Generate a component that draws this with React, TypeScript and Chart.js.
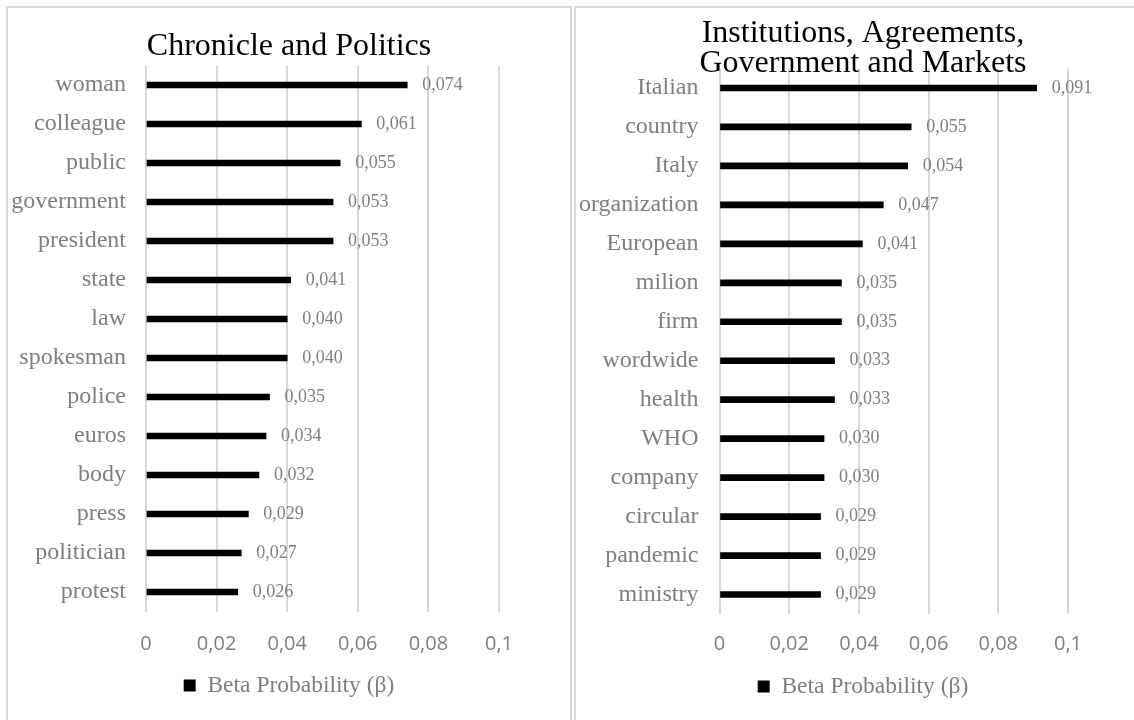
import React, { useEffect, useRef } from "react";
import { Chart, registerables } from "chart.js";

Chart.register(...registerables);

// ---------- data ----------
const seriesLabel = "Beta Probability (β)";

const leftTitle = "Chronicle and Politics";
const leftCategories = [
  "woman", "colleague", "public", "government", "president", "state", "law",
  "spokesman", "police", "euros", "body", "press", "politician", "protest",
];
const leftValues = [
  0.074, 0.061, 0.055, 0.053, 0.053, 0.041, 0.040,
  0.040, 0.035, 0.034, 0.032, 0.029, 0.027, 0.026,
];

const rightTitle = ["Institutions, Agreements,", "Government and Markets"];
const rightCategories = [
  "Italian", "country", "Italy", "organization", "European", "milion", "firm",
  "wordwide", "health", "WHO", "company", "circular", "pandemic", "ministry",
];
const rightValues = [
  0.091, 0.055, 0.054, 0.047, 0.041, 0.035, 0.035,
  0.033, 0.033, 0.030, 0.030, 0.029, 0.029, 0.029,
];

const xMin = 0;
const xMax = 0.1;
const xStep = 0.02;

// ---------- styles ----------
const SERIF = "'Liberation Serif', 'Times New Roman', serif";
const SANS = "'Open Sans', Calibri, sans-serif";
const GRAY = "#7f7f7f";
const GRID = "#d9d9d9";

const comma = (v: number, digits: number) => v.toFixed(digits).replace(".", ",");

const tickText = (v: number) => {
  const r = Math.round(v * 100) / 100;
  return String(r).replace(".", ",");
};

const valueLabelPlugin = {
  id: "valueLabels",
  afterDatasetsDraw(chart: any) {
    const ctx = chart.ctx;
    ctx.save();
    ctx.font = `18px ${SERIF}`;
    ctx.fillStyle = GRAY;
    ctx.textAlign = "left";
    ctx.textBaseline = "middle";
    chart.data.datasets.forEach((ds: any, i: number) => {
      const meta = chart.getDatasetMeta(i);
      meta.data.forEach((el: any, j: number) => {
        const v = ds.data[j] as number;
        ctx.fillText(comma(v, 3), el.x + 15, el.y);
      });
    });
    ctx.restore();
  },
};

type Spec = {
  title: string | string[];
  categories: string[];
  values: number[];
  width: number;
  height: number;
  yAxisWidth: number;
  yTickPad: number;
  xAxisHeight: number;
  xTickPad: number;
  rightSpace: number;
  padBottom: number;
  titleLineHeight: number;
  titlePadTop: number;
  titlePadBottom: number;
};

function makeConfig(s: Spec): any {
  return {
    type: "bar",
    data: {
      labels: s.categories,
      datasets: [
        {
          label: seriesLabel,
          data: s.values,
          xAxisID: "x",
          yAxisID: "y",
          backgroundColor: "#000000",
          borderWidth: 0,
          barThickness: 6,
        },
      ],
    },
    options: {
      indexAxis: "y",
      responsive: false,
      animation: false,
      devicePixelRatio: 1,
      layout: { padding: { left: 0, right: 0, top: 0, bottom: s.padBottom } },
      scales: {
        x: {
          type: "linear",
          position: "bottom",
          min: xMin,
          max: xMax,
          ticks: {
            stepSize: xStep,
            padding: s.xTickPad,
            color: GRAY,
            font: { family: SANS, size: 20 },
            callback: (v: any) => tickText(Number(v)),
          },
          grid: { display: true, color: GRID, lineWidth: 2, drawTicks: false },
          border: { display: false },
          afterFit: (scale: any) => {
            scale.height = s.xAxisHeight;
          },
        },
        y: {
          type: "category",
          position: "left",
          ticks: {
            padding: s.yTickPad,
            color: GRAY,
            font: { family: SERIF, size: 24 },
            autoSkip: false,
          },
          grid: { display: false, drawTicks: false },
          border: { display: false },
          afterFit: (scale: any) => {
            scale.width = s.yAxisWidth;
          },
        },
        ySpace: {
          type: "linear",
          position: "right",
          display: true,
          ticks: { display: false },
          grid: { display: false, drawTicks: false },
          border: { display: false },
          afterFit: (scale: any) => {
            scale.width = s.rightSpace;
          },
        },
      },
      plugins: {
        title: {
          display: true,
          text: s.title,
          color: "#000000",
          font: { family: SERIF, size: 32, weight: "normal", lineHeight: `${s.titleLineHeight}px` },
          padding: { top: s.titlePadTop, bottom: s.titlePadBottom },
        },
        legend: {
          display: true,
          position: "bottom",
          labels: {
            color: GRAY,
            font: { family: SERIF, size: 23.5 },
            boxWidth: 12,
            boxHeight: 12,
            padding: 10,
          },
        },
        tooltip: { enabled: false },
      },
    },
    plugins: [valueLabelPlugin],
  };
}

function Panel({ spec, left, boxWidth }: { spec: Spec; left: number; boxWidth: number }) {
  const ref = useRef<HTMLCanvasElement | null>(null);
  useEffect(() => {
    if (!ref.current) return;
    const chart = new Chart(ref.current, makeConfig(spec));
    return () => chart.destroy();
  }, []);
  return (
    <div
      style={{
        position: "fixed",
        left,
        top: 6,
        width: boxWidth,
        height: 800,
        boxSizing: "border-box",
        border: `2px solid ${GRID}`,
        background: "#ffffff",
      }}
    >
      <canvas
        ref={ref}
        width={spec.width}
        height={spec.height}
        style={{ display: "block", width: spec.width, height: spec.height }}
      />
    </div>
  );
}

const leftSpec: Spec = {
  title: leftTitle,
  categories: leftCategories,
  values: leftValues,
  width: 562,
  height: 712,
  yAxisWidth: 138,
  yTickPad: 20,
  xAxisHeight: 52.2,
  xTickPad: 21,
  rightSpace: 71,
  padBottom: 12.8,
  titleLineHeight: 28,
  titlePadTop: 24.2,
  titlePadBottom: 5.3,
};

const rightSpec: Spec = {
  title: rightTitle,
  categories: rightCategories,
  values: rightValues,
  width: 574,
  height: 712,
  yAxisWidth: 143.5,
  yTickPad: 21,
  xAxisHeight: 50.7,
  xTickPad: 18.5,
  rightSpace: 82,
  padBottom: 11.8,
  titleLineHeight: 30,
  titlePadTop: 11,
  titlePadBottom: -10.5,
};

export default function App() {
  useEffect(() => {
    document.body.style.margin = "0";
    document.body.style.overflow = "hidden";
    document.body.style.background = "#ffffff";
  }, []);
  return (
    <div>
      <Panel spec={leftSpec} left={6} boxWidth={566} />
      <Panel spec={rightSpec} left={574} boxWidth={578} />
    </div>
  );
}
